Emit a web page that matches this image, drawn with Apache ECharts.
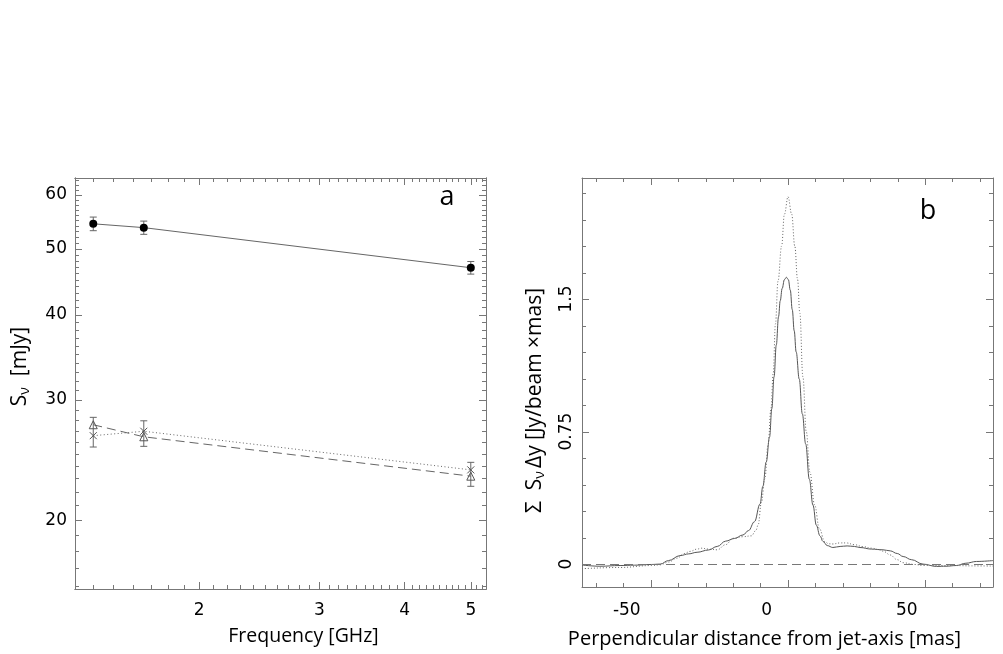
<!DOCTYPE html>
<html><head><meta charset="utf-8">
<script src="https://cdn.jsdelivr.net/npm/echarts@6/dist/echarts.min.js"></script>
<style>html,body{margin:0;padding:0;background:#fff}#c{width:1003px;height:654px}</style>
</head><body><div id="c"></div>
<script>
// ---------- Panel a : flux density vs frequency ----------
const freqGHz = [1.4, 1.66, 5.0];
const totalFlux = [54.4, 53.7, 46.9];
const totalErr = [1.25, 1.2, 1.0];
const compTriFlux = [27.6, 26.5, 23.2];
const compCrossFlux = [26.6, 27.0, 23.7];
const compErrLow = [25.6, 25.66, 22.42];
const compErrHigh = [28.3, 27.97, 24.31];
const freqLabelTicks = [2, 3, 4, 5];
const fluxLabelTicks = [20, 30, 40, 50, 60];
const freqRange = [1.3164, 5.263];
const fluxRange = [15.85, 63.5];

// ---------- Panel b : transverse profile ----------
const profileSolid = [[-66,-0.005],[-59.6,-0.012],[-52.4,-0.008],[-47.3,-0.006],[-41.2,-0.002],[-38.1,0.0],[-35.1,0.02],[-31.0,0.048],[-27.9,0.058],[-24.9,0.067],[-20.8,0.08],[-17.7,0.1],[-14.7,0.13],[-11.6,0.145],[-8.5,0.165],[-6.5,0.19],[-4.4,0.24],[-2.4,0.34],[-1.4,0.44],[-0.2,0.578],[1.0,0.72],[1.8,0.88],[2.6,1.06],[3.4,1.24],[4.2,1.40],[4.8,1.49],[5.5,1.56],[6.3,1.61],[7.0,1.623],[7.7,1.61],[8.4,1.55],[9.1,1.44],[9.8,1.32],[10.5,1.2],[11.6,1.047],[12.7,0.85],[13.9,0.68],[15.2,0.48],[16.5,0.334],[17.7,0.22],[19.0,0.16],[20.1,0.128],[21.6,0.105],[23.6,0.094],[26.2,0.1],[28.7,0.103],[31.3,0.1],[33.3,0.094],[37.4,0.085],[41.5,0.081],[44.1,0.075],[46.6,0.06],[48.7,0.043],[51.7,0.025],[55.8,0.0],[60.6,-0.013],[64.0,-0.012],[67.7,-0.008],[71.1,0.005],[74.9,0.015],[80.8,0.02]];
const profileDotted = [[-66,-0.026],[-52.4,-0.019],[-41.2,-0.008],[-38.1,-0.004],[-35.1,0.012],[-32.0,0.034],[-29.5,0.06],[-27.4,0.072],[-24.9,0.085],[-23.3,0.09],[-20.8,0.085],[-17.7,0.081],[-14.7,0.11],[-12.0,0.146],[-8.5,0.155],[-5.5,0.16],[-3.9,0.19],[-3.1,0.221],[-1.9,0.35],[-0.7,0.484],[0.5,0.68],[1.5,0.88],[2.3,1.08],[3.1,1.36],[4.0,1.60],[5.3,1.8],[6.3,1.98],[7.6,2.079],[8.9,1.98],[10.0,1.8],[11.0,1.61],[11.8,1.42],[12.9,1.06],[14.1,0.75],[15.4,0.52],[17.1,0.334],[18.8,0.2],[20.7,0.128],[22.1,0.115],[23.6,0.114],[26.2,0.12],[28.4,0.12],[31.3,0.11],[34.4,0.099],[37.4,0.09],[40.3,0.081],[42.0,0.07],[44.0,0.052],[46.6,0.025],[48.7,0.008],[52.7,-0.002],[55.8,-0.008],[66.6,-0.008],[73.2,-0.01],[80.8,-0.011]];
const distLabelTicks = [-50, 0, 50];
const distMajorTicks = [-41.3, 7.6, 56.5];
const distMinorTicks = [-61.1, -51.2, -31.7, -21.8, -12.0, -2.25, 17.4, 27.3, 37.0, 46.9, 66.3, 76.1];
const profLabelTicks = [0, 0.75, 1.5];
const profMinorTicks = [0.15, 0.3, 0.45, 0.6, 0.9, 1.05, 1.2, 1.35, 1.65, 1.8, 1.95, 2.1];
const distRange = [-66, 80.8];
const profRange = [-0.1295, 2.185];

// minor tick positions (axis decoration only)
const freqMinorTicks = [];
for (let k = 14; k <= 52; k++) { if (k % 10 !== 0) freqMinorTicks.push(k / 10); }
const fluxMinorTicks = [];
for (let k = 16; k <= 63; k++) { if (k % 10 !== 0) fluxMinorTicks.push(k); }

const L = v => Math.log10(v);
const TICK = '#777';
const TICKFONT = 'DejaVu Sans';
const TITLEFONT = 'Open Sans';
const LONG = 7, SHORT = 4;

function tickAxis(grid, pos, range, ticks, len, labels, extra) {
  const ax = {
    type: 'value', gridIndex: grid, position: pos, min: range[0], max: range[1],
    axisLine: { show: true, onZero: false, lineStyle: { color: TICK, width: 1 } }, splitLine: { show: false },
    axisTick: ticks ? { show: true, inside: true, length: len, customValues: ticks.slice(), lineStyle: { color: TICK, width: 1 } } : { show: false },
    axisLabel: { show: false }
  };
  if (labels) {
    ax.axisLabel = Object.assign({ show: true, customValues: labels.slice(), color: '#000', fontFamily: TICKFONT, fontSize: 17 }, extra && extra.label);
  }
  if (extra && extra.name) Object.assign(ax, extra.name);
  return ax;
}

const logFmt = v => String(Math.round(Math.pow(10, v)));
const richSub = {
  a: { fontFamily: TITLEFONT, fontSize: 21, color: '#000' },
  s: { fontFamily: TITLEFONT, fontSize: 14, color: '#000', padding: [10, 0, 0, 0] }
};

const xAxes = [
  { type: 'log', logBase: 10, gridIndex: 0, min: freqRange[0], max: freqRange[1], show: false, axisLine: { onZero: false } },
  tickAxis(0, 'bottom', freqRange.map(L), freqLabelTicks.map(L), LONG, freqLabelTicks.map(L), {
    label: { formatter: logFmt, margin: 13 },
    name: { name: 'Frequency [GHz]', nameLocation: 'middle', nameGap: 37,
      nameTextStyle: { fontFamily: TITLEFONT, fontSize: 19.5, color: '#000', padding: [0, 0, 0, 46] } }
  }),
  tickAxis(0, 'bottom', freqRange.map(L), freqMinorTicks.map(L), SHORT),
  tickAxis(0, 'top', freqRange.map(L), freqLabelTicks.map(L), LONG),
  tickAxis(0, 'top', freqRange.map(L), freqMinorTicks.map(L), SHORT),
  { type: 'value', gridIndex: 1, min: distRange[0], max: distRange[1], show: false, axisLine: { onZero: false } },
  tickAxis(1, 'bottom', distRange, null, 0, distLabelTicks, {
    label: { margin: 15 },
    name: { name: 'Perpendicular distance from jet-axis [mas]', nameLocation: 'middle', nameGap: 42,
      nameTextStyle: { fontFamily: TITLEFONT, fontSize: 20, color: '#000', padding: [0, 46, 0, 0] } }
  }),
  tickAxis(1, 'top', distRange, null, 0)
];

const yAxes = [
  { type: 'log', logBase: 10, gridIndex: 0, min: fluxRange[0], max: fluxRange[1], show: false, axisLine: { onZero: false } },
  tickAxis(0, 'left', fluxRange.map(L), fluxLabelTicks.map(L), LONG, fluxLabelTicks.map(L), {
    label: { formatter: logFmt, margin: 8 },
    name: { name: '{a|S}{s|ν}{a|  [mJy]}', nameLocation: 'middle', nameGap: 43, nameRotate: 90,
      nameTextStyle: { rich: richSub, padding: [0, 0, 0, 34] } }
  }),
  tickAxis(0, 'left', fluxRange.map(L), fluxMinorTicks.map(L), SHORT),
  tickAxis(0, 'right', fluxRange.map(L), fluxLabelTicks.map(L), LONG),
  tickAxis(0, 'right', fluxRange.map(L), fluxMinorTicks.map(L), SHORT),
  { type: 'value', gridIndex: 1, min: profRange[0], max: profRange[1], show: false, axisLine: { onZero: false } },
  tickAxis(1, 'left', profRange, null, 0, profLabelTicks, {
    label: { rotate: 90, margin: 7 },
    name: { name: '{a|Σ  S}{s|ν} {a|Δy [Jy/beam ×mas]}', nameLocation: 'middle', nameGap: 35, nameRotate: 90,
      nameTextStyle: { rich: richSub, padding: [0, 36, 0, 0] } }
  }),
  tickAxis(1, 'right', profRange, null, 0)
];

function errorBars(name, lows, highs) {
  return {
    type: 'custom', name, xAxisIndex: 0, yAxisIndex: 0, z: 2,
    data: freqGHz.map((f, i) => [f, lows[i], highs[i]]),
    encode: { x: 0, y: [1, 2] },
    renderItem: (params, api) => {
      const p1 = api.coord([api.value(0), api.value(1)]);
      const p2 = api.coord([api.value(0), api.value(2)]);
      const w = 3.5, st = { stroke: '#666', lineWidth: 1 };
      return { type: 'group', children: [
        { type: 'line', shape: { x1: p1[0], y1: p1[1], x2: p2[0], y2: p2[1] }, style: st },
        { type: 'line', shape: { x1: p1[0] - w, y1: p1[1], x2: p1[0] + w, y2: p1[1] }, style: st },
        { type: 'line', shape: { x1: p2[0] - w, y1: p2[1], x2: p2[0] + w, y2: p2[1] }, style: st }
      ] };
    }
  };
}

const panelLetters = [
  { type: 'text', z: 50, style: { x: 447, y: 197, text: 'a', font: '27px "Open Sans"', fill: '#000', align: 'center', verticalAlign: 'middle' } },
  { type: 'text', z: 50, style: { x: 928, y: 211, text: 'b', font: '27px "Open Sans"', fill: '#000', align: 'center', verticalAlign: 'middle' } }
];

const option = {
  animation: false,
  backgroundColor: '#fff',
  textStyle: { fontFamily: TITLEFONT },
  grid: [
    { left: 75, top: 178, width: 411, height: 411, show: false },
    { left: 582, top: 178, width: 411, height: 411, show: false }
  ],
  xAxis: xAxes,
  yAxis: yAxes,
  graphic: { elements: panelLetters },
  series: [
    errorBars('totalErr', totalFlux.map((v, i) => v - totalErr[i]), totalFlux.map((v, i) => v + totalErr[i])),
    errorBars('compErr', compErrLow, compErrHigh),
    {
      type: 'line', name: 'total', xAxisIndex: 0, yAxisIndex: 0, z: 3,
      data: freqGHz.map((f, i) => [f, totalFlux[i]]),
      symbol: 'circle', symbolSize: 8, itemStyle: { color: '#000' },
      lineStyle: { color: '#666', width: 1 }
    },
    {
      type: 'line', name: 'tri', xAxisIndex: 0, yAxisIndex: 0, z: 3,
      data: freqGHz.map((f, i) => [f, compTriFlux[i]]),
      symbol: 'triangle', symbolSize: 8, itemStyle: { color: 'rgba(255,255,255,0)', borderColor: '#555', borderWidth: 1 },
      lineStyle: { color: '#666', width: 1, type: [9, 5] }
    },
    {
      type: 'line', name: 'cross', xAxisIndex: 0, yAxisIndex: 0, z: 3,
      data: freqGHz.map((f, i) => [f, compCrossFlux[i]]),
      symbol: 'path://M0,0L10,10M10,0L0,10', symbolSize: 7, itemStyle: { color: 'rgba(255,255,255,0)', borderColor: '#555', borderWidth: 1 },
      lineStyle: { color: '#666', width: 1, type: [1, 2.5] }
    },
    {
      type: 'line', name: 'solid', xAxisIndex: 5, yAxisIndex: 5,
      data: profileSolid, showSymbol: false, smooth: 0.4, smoothMonotone: 'x',
      lineStyle: { color: '#555', width: 1 },
      markLine: { silent: true, symbol: 'none', label: { show: false },
        lineStyle: { color: '#777', width: 1.2, type: [9, 5] }, data: [{ yAxis: 0 }] }
    },
    {
      type: 'line', name: 'dotted', xAxisIndex: 5, yAxisIndex: 5,
      data: profileDotted, showSymbol: false, smooth: 0.4, smoothMonotone: 'x',
      lineStyle: { color: '#666', width: 1, type: [1, 2] }
    }
  ]
};

const chart = echarts.init(document.getElementById('c'));
chart.setOption(option);

// Panel b frame ticks: positions taken from the panel's own axes (convertToPixel), mirrored on all four sides
try {
  const finder = { xAxisIndex: 5, yAxisIndex: 5 };
  const bl = chart.convertToPixel(finder, [distRange[0], profRange[0]]);
  const tr = chart.convertToPixel(finder, [distRange[1], profRange[1]]);
  const ticks = [];
  const st = { stroke: TICK, lineWidth: 1 };
  const addX = (v, len) => {
    const px = Math.round(chart.convertToPixel(finder, [v, profRange[0]])[0]) + 0.5;
    ticks.push({ type: 'line', z: 40, silent: true, shape: { x1: px, y1: bl[1], x2: px, y2: bl[1] - len }, style: st });
    ticks.push({ type: 'line', z: 40, silent: true, shape: { x1: px, y1: tr[1], x2: px, y2: tr[1] + len }, style: st });
  };
  const addY = (v, len) => {
    const py = Math.round(chart.convertToPixel(finder, [distRange[0], v])[1]) + 0.5;
    ticks.push({ type: 'line', z: 40, silent: true, shape: { x1: bl[0], y1: py, x2: bl[0] + len, y2: py }, style: st });
    ticks.push({ type: 'line', z: 40, silent: true, shape: { x1: tr[0], y1: py, x2: tr[0] - len, y2: py }, style: st });
  };
  distMajorTicks.forEach(v => addX(v, LONG));
  distMinorTicks.forEach(v => addX(v, SHORT));
  profLabelTicks.forEach(v => addY(v, LONG));
  profMinorTicks.forEach(v => addY(v, SHORT));
  chart.setOption({ graphic: { elements: panelLetters.concat(ticks) } });
} catch (e) { /* keep chart without extra ticks */ }
</script>
</body></html>
